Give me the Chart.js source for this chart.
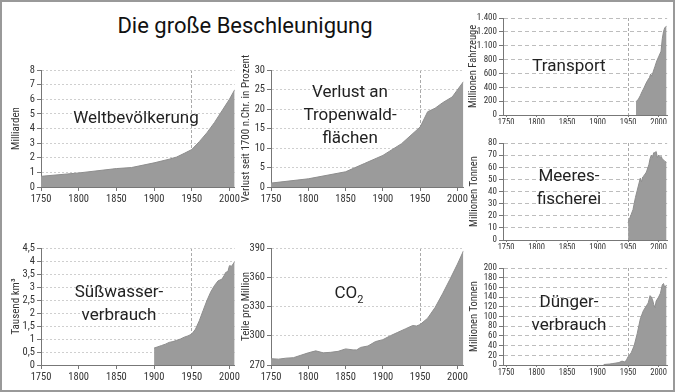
<!DOCTYPE html>
<html>
<head>
<meta charset="utf-8">
<script src="https://cdn.jsdelivr.net/npm/chart.js@4.4.1/dist/chart.umd.min.js"></script>
<style>
  body { margin: 0; background: #fff; }
  #frame { position: absolute; left: 0; top: 0; width: 675px; height: 392px; border: 2px solid #999; box-sizing: border-box; overflow: hidden; font-family: Roboto, sans-serif; }
  .panel { position: absolute; }
  .label { position: absolute; transform: translate(-50%, -50%); font-size: 17px; line-height: 23px; color: #222; text-align: center; white-space: nowrap; }
  #title { position: absolute; left: 243px; top: 23px; transform: translate(-50%, -50%); font-size: 22px; color: #111; white-space: nowrap; }
</style>
</head>
<body>
<div id="frame">
  <div id="title">Die große Beschleunigung</div>

  <div class="panel" style="left:0px;top:46px;width:240px;height:164px"><canvas id="pop"></canvas></div>
  <div class="panel" style="left:230px;top:46px;width:238px;height:164px"><canvas id="forest"></canvas></div>
  <div class="panel" style="left:460px;top:2px;width:206px;height:120px"><canvas id="transport"></canvas></div>
  <div class="panel" style="left:460px;top:127px;width:206px;height:120px"><canvas id="fish"></canvas></div>
  <div class="panel" style="left:460px;top:252px;width:206px;height:121px"><canvas id="fert"></canvas></div>
  <div class="panel" style="left:0px;top:224px;width:240px;height:164px"><canvas id="water"></canvas></div>
  <div class="panel" style="left:230px;top:224px;width:238px;height:164px"><canvas id="co2"></canvas></div>

  <div class="label" style="left:134px;top:115px">Weltbevölkerung</div>
  <div class="label" style="left:348px;top:112px">Verlust an<br>Tropenwald-<br>flächen</div>
  <div class="label" style="left:567px;top:63px">Transport</div>
  <div class="label" style="left:567px;top:185px">Meeres-<br>fischerei</div>
  <div class="label" style="left:567px;top:311px">Dünger-<br>verbrauch</div>
  <div class="label" style="left:117px;top:301px">Süßwasser-<br>verbrauch</div>
  <div class="label" style="left:347px;top:294px">CO<sub style="font-size:11px">2</sub></div>
</div>
<script>
var xTicks = [1750, 1800, 1850, 1900, 1950, 2000];

var popYears = [1750, 1800, 1850, 1870, 1900, 1920, 1930, 1940, 1950, 1960, 1970, 1980, 1990, 2000, 2007];
var popValues = [0.73, 0.96, 1.26, 1.33, 1.65, 1.9, 2.05, 2.3, 2.56, 3.1, 3.7, 4.4, 5.2, 6.0, 6.65];
var popTicks = [0, 1, 2, 3, 4, 5, 6, 7, 8];
var popLabels = ['0', '1', '2', '3', '4', '5', '6', '7', '8'];

var forestYears = [1750, 1800, 1850, 1875, 1900, 1925, 1950, 1960, 1970, 1980, 1993, 2008];
var forestValues = [1, 2.1, 3.9, 6, 8.1, 11.1, 15.4, 19.3, 20.2, 21.6, 23.1, 27];
var forestTicks = [0, 5, 10, 15, 20, 25, 30];
var forestLabels = ['0', '5', '10', '15', '20', '25', '30'];

var transportYears = [1963, 1967, 1970, 1973, 1976, 1979, 1982, 1985, 1987, 1989, 1991, 1994, 1997, 2000, 2002, 2004, 2006, 2008, 2010, 2013];
var transportValues = [190, 230, 280, 340, 390, 450, 500, 540, 590, 560, 620, 700, 780, 840, 880, 920, 1100, 1200, 1260, 1280];
var transportTicks = [0, 200, 400, 600, 800, 1000, 1200, 1400];
var transportLabels = ['0', '200', '400', '600', '800', '1.100', '1.200', '1.400'];

var fishYears = [1950, 1952, 1955, 1958, 1960, 1962, 1965, 1968, 1970, 1972, 1974, 1976, 1980, 1984, 1986, 1988, 1990, 1992, 1994, 1996, 1998, 2000, 2002, 2004, 2006, 2008, 2010, 2013];
var fishValues = [14, 17, 21, 25, 30, 35, 41, 47, 51, 48, 52, 53, 56, 62, 67, 70, 68, 72, 72, 73, 68, 70, 68, 69, 67, 66, 65, 64];
var fishTicks = [0, 10, 20, 30, 40, 50, 60, 70, 80];
var fishLabels = ['0', '10', '20', '30', '40', '50', '60', '70', '80'];

var fertYears = [1910, 1920, 1925, 1930, 1935, 1940, 1945, 1948, 1950, 1955, 1960, 1965, 1970, 1975, 1980, 1983, 1986, 1988, 1990, 1992, 1994, 1996, 1998, 2000, 2003, 2006, 2008, 2010, 2013];
var fertValues = [1, 2, 3, 4, 5, 8, 6, 12, 17, 25, 40, 65, 95, 112, 122, 128, 143, 140, 135, 125, 118, 132, 136, 140, 148, 165, 168, 160, 165];
var fertTicks = [0, 20, 40, 60, 80, 100, 120, 140, 160, 180, 200];
var fertLabels = ['0', '20', '40', '60', '80', '100', '120', '140', '160', '180', '200'];

var waterYears = [1900, 1905, 1910, 1915, 1920, 1925, 1930, 1935, 1940, 1945, 1950, 1955, 1960, 1965, 1970, 1975, 1980, 1985, 1990, 1993, 1995, 1998, 2000, 2003, 2007];
var waterValues = [0.65, 0.7, 0.75, 0.8, 0.87, 0.9, 0.95, 1.0, 1.07, 1.12, 1.19, 1.38, 1.7, 2.09, 2.47, 2.8, 3.05, 3.24, 3.3, 3.44, 3.56, 3.6, 3.82, 3.8, 3.98];
var waterTicks = [0, 0.5, 1, 1.5, 2, 2.5, 3, 3.5, 4, 4.5];
var waterLabels = ['0', '0,5', '1', '1,5', '2', '2,5', '3', '3,5', '4', '4,5'];

var co2Years = [1750, 1760, 1770, 1780, 1790, 1800, 1810, 1820, 1830, 1840, 1850, 1860, 1865, 1870, 1880, 1890, 1900, 1910, 1920, 1930, 1940, 1945, 1950, 1960, 1970, 1980, 1990, 2000, 2008];
var co2Values = [276.5, 276, 277, 277.5, 280, 282.5, 284.5, 282.5, 283, 284, 286.5, 285.5, 285.5, 288, 289.5, 294, 296, 300, 303.5, 307, 310.5, 310, 311.5, 318, 329, 343, 358, 373.5, 387];
var co2Ticks = [270, 300, 330, 360, 390];
var co2Labels = ['270', '300', '330', '360', '390'];

Chart.defaults.font.family = "'Roboto Condensed', 'Liberation Sans Narrow', 'DejaVu Sans Condensed', Roboto, sans-serif";
Chart.defaults.color = '#333';

// frame = panel box on page, plot = wanted chart area on page
function drawPanel(id, frame, plot, years, values, xMin, xMax, yTicks, yLabels, yTitle, titlePad, small) {
	var points = [];
	for (var i = 0; i < years.length; i++) {
		points.push({x: years[i], y: values[i]});
	}
	var gridColor = small ? '#bdbdbd' : '#cfcfcf';
	return new Chart(document.getElementById(id), {
		type: 'line',
		data: {
			datasets: [{
				data: points,
				fill: 'start',
				backgroundColor: '#9b9b9b',
				borderColor: '#8e8e8e',
				borderWidth: 1,
				pointRadius: 0,
				tension: 0
			}]
		},
		options: {
			responsive: true,
			maintainAspectRatio: false,
			animation: false,
			events: [],
			layout: {
				padding: {left: 0, top: plot.top - frame.top, right: frame.right - plot.right, bottom: 0}
			},
			plugins: {legend: {display: false}, tooltip: {enabled: false}},
			scales: {
				x: {
					type: 'linear',
					min: xMin,
					max: xMax,
					afterBuildTicks: function (s) { s.ticks = xTicks.map(function (v) { return {value: v}; }); },
					afterFit: function (s) { s.height = frame.bottom - plot.bottom; },
					ticks: {
						autoSkip: false, maxRotation: 0, padding: small ? 1 : 2,
						font: {size: small ? 8.5 : 10.5},
						callback: function (v) { return String(v); }
					},
					grid: {
						color: function (c) { return c.tick && c.tick.value === 1950 ? '#aaa' : 'rgba(0,0,0,0)'; },
						tickColor: '#777',
						tickLength: small ? 2 : 4
					},
					border: {color: '#777', dash: [3, 2]}
				},
				y: {
					min: yTicks[0],
					max: yTicks[yTicks.length - 1],
					afterBuildTicks: function (s) { s.ticks = yTicks.map(function (v) { return {value: v}; }); },
					afterFit: function (s) { s.width = plot.left - frame.left; },
					ticks: {
						autoSkip: false,
						padding: 2,
						font: {size: small ? 9 : 10.5},
						callback: function (v, idx) { return yLabels[idx]; }
					},
					grid: {color: gridColor, tickColor: '#777', tickLength: 4},
					border: {color: '#777', dash: small ? [4, 3] : [2, 2]},
					title: {
						display: true,
						text: yTitle,
						font: {size: small ? 10.5 : 11},
						color: '#333',
						padding: {top: titlePad, bottom: 0}
					}
				}
			}
		}
	});
}

drawPanel('pop', {left: 0, top: 46, right: 240, bottom: 210}, {left: 39, top: 68, right: 233, bottom: 185},
	popYears, popValues, 1750, 2007, popTicks, popLabels, 'Milliarden', 8, false);
drawPanel('forest', {left: 230, top: 46, right: 468, bottom: 210}, {left: 269, top: 68, right: 463, bottom: 185},
	forestYears, forestValues, 1750, 2008, forestTicks, forestLabels, 'Verlust seit 1700 n.Chr. in Prozent', 8, false);
drawPanel('transport', {left: 460, top: 2, right: 666, bottom: 122}, {left: 501, top: 16, right: 666, bottom: 113},
	transportYears, transportValues, 1745, 2014, transportTicks, transportLabels, 'Millionen Fahrzeuge', 5, true);
drawPanel('fish', {left: 460, top: 127, right: 666, bottom: 247}, {left: 501, top: 141, right: 666, bottom: 238},
	fishYears, fishValues, 1745, 2014, fishTicks, fishLabels, 'Millionen Tonnen', 6, true);
drawPanel('fert', {left: 460, top: 252, right: 666, bottom: 373}, {left: 501, top: 266, right: 666, bottom: 363},
	fertYears, fertValues, 1745, 2014, fertTicks, fertLabels, 'Millionen Tonnen', 6, true);
drawPanel('water', {left: 0, top: 224, right: 240, bottom: 388}, {left: 39, top: 246, right: 233, bottom: 363},
	waterYears, waterValues, 1750, 2007, waterTicks, waterLabels, 'Tausend km³', 8, false);
drawPanel('co2', {left: 230, top: 224, right: 468, bottom: 388}, {left: 269, top: 246, right: 463, bottom: 363},
	co2Years, co2Values, 1750, 2008, co2Ticks, co2Labels, 'Teile pro Million', 8, false);
</script>
</body>
</html>
